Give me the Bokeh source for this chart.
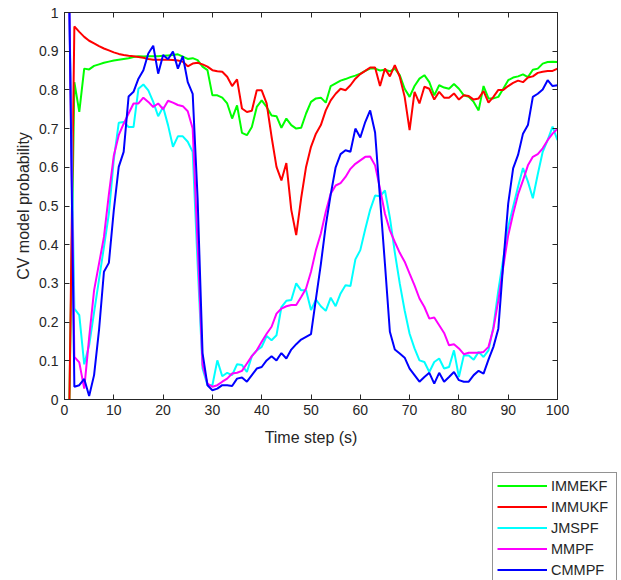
from bokeh.plotting import figure
from bokeh.models import (Range1d, LinearAxis, FixedTicker, Legend, LegendItem)
from bokeh.embed import file_html
from bokeh.resources import INLINE

# ---------------- data ----------------
time_step = list(range(1, 101))

immekf = [0.0, 0.82, 0.743, 0.855, 0.853, 0.862, 0.866, 0.870, 0.873, 0.876,
          0.878, 0.880, 0.882, 0.885, 0.887, 0.886, 0.887, 0.887, 0.887, 0.888,
          0.889, 0.890, 0.892, 0.886, 0.880, 0.882, 0.877, 0.860, 0.851, 0.786,
          0.786, 0.780, 0.765, 0.726, 0.760, 0.689, 0.683, 0.704, 0.756, 0.773,
          0.756, 0.734, 0.732, 0.702, 0.726, 0.709, 0.700, 0.702, 0.739, 0.769,
          0.778, 0.780, 0.767, 0.810, 0.817, 0.824, 0.828, 0.833, 0.837, 0.842,
          0.849, 0.855, 0.855, 0.850, 0.852, 0.848, 0.855, 0.838, 0.803, 0.782,
          0.810, 0.829, 0.838, 0.820, 0.786, 0.812, 0.806, 0.803, 0.815, 0.803,
          0.786, 0.782, 0.769, 0.747, 0.810, 0.778, 0.778, 0.782, 0.803, 0.825,
          0.832, 0.835, 0.840, 0.833, 0.852, 0.855, 0.868, 0.872, 0.873, 0.872]

immukf = [0.0, 0.964, 0.950, 0.937, 0.927, 0.920, 0.913, 0.907, 0.902, 0.897,
          0.893, 0.890, 0.888, 0.887, 0.885, 0.883, 0.880, 0.878, 0.878, 0.878,
          0.878, 0.877, 0.876, 0.873, 0.861, 0.868, 0.870, 0.866, 0.860, 0.851,
          0.848, 0.847, 0.834, 0.810, 0.827, 0.752, 0.743, 0.746, 0.799, 0.799,
          0.765, 0.679, 0.601, 0.566, 0.611, 0.490, 0.425, 0.520, 0.601, 0.653,
          0.687, 0.709, 0.747, 0.773, 0.790, 0.803, 0.799, 0.812, 0.829, 0.841,
          0.849, 0.858, 0.858, 0.810, 0.855, 0.835, 0.864, 0.834, 0.782, 0.696,
          0.795, 0.765, 0.808, 0.803, 0.775, 0.795, 0.780, 0.780, 0.791, 0.775,
          0.786, 0.784, 0.775, 0.778, 0.797, 0.767, 0.782, 0.800, 0.800, 0.810,
          0.818, 0.824, 0.820, 0.832, 0.835, 0.844, 0.847, 0.849, 0.849, 0.855]

jmspf = [1.0, 0.235, 0.218, 0.091, 0.140, 0.225, 0.310, 0.394, 0.480, 0.620,
         0.715, 0.717, 0.704, 0.704, 0.803, 0.814, 0.799, 0.769, 0.732, 0.756,
         0.709, 0.653, 0.680, 0.680, 0.666, 0.640, 0.350, 0.080, 0.037, 0.037,
         0.101, 0.060, 0.069, 0.063, 0.091, 0.089, 0.071, 0.112, 0.127, 0.136,
         0.164, 0.153, 0.166, 0.239, 0.255, 0.257, 0.300, 0.282, 0.282, 0.231,
         0.258, 0.241, 0.229, 0.263, 0.241, 0.274, 0.295, 0.293, 0.362, 0.386,
         0.440, 0.490, 0.527, 0.525, 0.540, 0.470, 0.380, 0.300, 0.230, 0.170,
         0.132, 0.101, 0.097, 0.071, 0.097, 0.106, 0.080, 0.084, 0.127, 0.058,
         0.114, 0.114, 0.103, 0.123, 0.110, 0.127, 0.188, 0.282, 0.364, 0.446,
         0.498, 0.550, 0.598, 0.563, 0.520, 0.582, 0.640, 0.670, 0.705, 0.670]

mmpf = [1.0, 0.110, 0.096, 0.028, 0.160, 0.282, 0.351, 0.420, 0.530, 0.630,
        0.683, 0.713, 0.739, 0.765, 0.765, 0.780, 0.769, 0.756, 0.765, 0.750,
        0.772, 0.767, 0.761, 0.758, 0.745, 0.700, 0.400, 0.090, 0.041, 0.033,
        0.037, 0.046, 0.054, 0.067, 0.069, 0.074, 0.093, 0.112, 0.127, 0.149,
        0.170, 0.188, 0.222, 0.235, 0.241, 0.244, 0.244, 0.265, 0.287, 0.330,
        0.386, 0.429, 0.485, 0.532, 0.553, 0.559, 0.575, 0.596, 0.609, 0.618,
        0.627, 0.628, 0.605, 0.545, 0.480, 0.437, 0.407, 0.379, 0.356, 0.325,
        0.295, 0.261, 0.239, 0.209, 0.212, 0.192, 0.172, 0.140, 0.143, 0.132,
        0.117, 0.121, 0.121, 0.121, 0.123, 0.136, 0.183, 0.256, 0.343, 0.424,
        0.480, 0.530, 0.566, 0.605, 0.627, 0.634, 0.649, 0.670, 0.687, 0.700]

cmmpf = [1.0, 0.033, 0.037, 0.053, 0.009, 0.063, 0.179, 0.330, 0.353, 0.489,
         0.601, 0.640, 0.783, 0.795, 0.829, 0.851, 0.894, 0.914, 0.842, 0.890,
         0.879, 0.899, 0.855, 0.887, 0.820, 0.790, 0.520, 0.120, 0.037, 0.024,
         0.028, 0.037, 0.037, 0.035, 0.054, 0.057, 0.046, 0.063, 0.080, 0.084,
         0.101, 0.112, 0.101, 0.120, 0.106, 0.129, 0.143, 0.155, 0.162, 0.169,
         0.260, 0.350, 0.450, 0.530, 0.600, 0.634, 0.644, 0.640, 0.700, 0.677,
         0.717, 0.747, 0.690, 0.520, 0.350, 0.175, 0.129, 0.119, 0.108, 0.080,
         0.063, 0.046, 0.058, 0.069, 0.041, 0.069, 0.046, 0.058, 0.071, 0.050,
         0.046, 0.046, 0.063, 0.074, 0.067, 0.103, 0.136, 0.183, 0.352, 0.506,
         0.597, 0.632, 0.687, 0.709, 0.782, 0.790, 0.801, 0.825, 0.810, 0.812]

series_names = ["IMMEKF", "IMMUKF", "JMSPF", "MMPF", "CMMPF"]
series_values = [immekf, immukf, jmspf, mmpf, cmmpf]
series_colors = ["#00FF00", "#FF0000", "#00FFFF", "#FF00FF", "#0000FF"]

x_ticks = [0, 10, 20, 30, 40, 50, 60, 70, 80, 90, 100]
y_ticks = [0, 0.1, 0.2, 0.3, 0.4, 0.5, 0.6, 0.7, 0.8, 0.9, 1]
y_tick_labels = ["0", "0.1", "0.2", "0.3", "0.4", "0.5", "0.6", "0.7", "0.8", "0.9", "1"]

x_label = "Time step (s)"
y_label = "CV model probability"

# ---------------- main figure ----------------
FONT = "Liberation Sans"
AX_COLOR = "#262626"

p = figure(width=621, height=470, output_backend="svg", toolbar_location=None,
           x_range=Range1d(0, 100), y_range=Range1d(0, 1),
           min_border_left=64, min_border_right=64,
           min_border_top=12, min_border_bottom=71)
p.background_fill_color = "white"
p.border_fill_color = "white"
p.grid.visible = False
p.outline_line_color = AX_COLOR
p.outline_line_width = 1

xt = FixedTicker(ticks=x_ticks)
yt = FixedTicker(ticks=y_ticks)


def style_axis(ax):
    ax.major_tick_in = 5
    ax.major_tick_out = 0
    ax.minor_tick_line_color = None
    ax.axis_line_color = AX_COLOR
    ax.major_tick_line_color = AX_COLOR
    ax.major_label_text_font = FONT
    ax.major_label_text_font_size = "14px"
    ax.major_label_text_color = AX_COLOR
    ax.axis_label_text_font = FONT
    ax.axis_label_text_font_size = "16px"
    ax.axis_label_text_font_style = "normal"
    ax.axis_label_text_color = AX_COLOR


xa = p.xaxis[0]
xa.ticker = xt
style_axis(xa)
xa.axis_label = x_label
xa.major_label_standoff = 5
xa.axis_label_standoff = 11

ya = p.yaxis[0]
ya.ticker = yt
style_axis(ya)
ya.axis_label = y_label
ya.major_label_standoff = 6
ya.axis_label_standoff = 4
ya.major_label_overrides = {v: s for v, s in zip(y_ticks, y_tick_labels)}

# box ticks on top and right (no labels drawn)
top = LinearAxis(ticker=xt)
style_axis(top)
top.major_label_text_font_size = "0px"
top.major_label_text_color = None
top.major_label_standoff = 0
p.add_layout(top, "above")

right = LinearAxis(ticker=yt)
style_axis(right)
right.major_label_text_font_size = "0px"
right.major_label_text_color = None
right.major_label_standoff = 0
p.add_layout(right, "right")

for vals, col in zip(series_values, series_colors):
    p.line(time_step, vals, line_color=col, line_width=2)

# ---------------- legend strip below the axes (separate root) ----------------
q = figure(width=621, height=110, output_backend="svg", toolbar_location=None,
           x_range=Range1d(-300, -200), y_range=Range1d(0, 1),
           x_axis_location=None, y_axis_location=None,
           min_border_left=0, min_border_right=0,
           min_border_top=0, min_border_bottom=0)
q.grid.visible = False
q.outline_line_color = None
q.background_fill_color = "white"
q.border_fill_color = "white"

items = []
for name, vals, col in zip(series_names, series_values, series_colors):
    r = q.line(time_step, vals, line_color=col, line_width=2)
    items.append(LegendItem(label=name, renderers=[r]))

legend = Legend(items=items, location=(492, -3))
legend.label_text_font = FONT
legend.label_text_font_size = "14.5px"
legend.label_text_color = AX_COLOR
legend.glyph_width = 50
legend.glyph_height = 17
legend.label_height = 17
legend.label_width = 61
legend.label_standoff = 4
legend.spacing = 4
legend.padding = 4
legend.margin = 0
legend.border_line_color = AX_COLOR
legend.border_line_width = 1
legend.background_fill_color = "white"
legend.background_fill_alpha = 1
q.add_layout(legend, "center")

open("out.html", "w").write(file_html([p, q], INLINE))
